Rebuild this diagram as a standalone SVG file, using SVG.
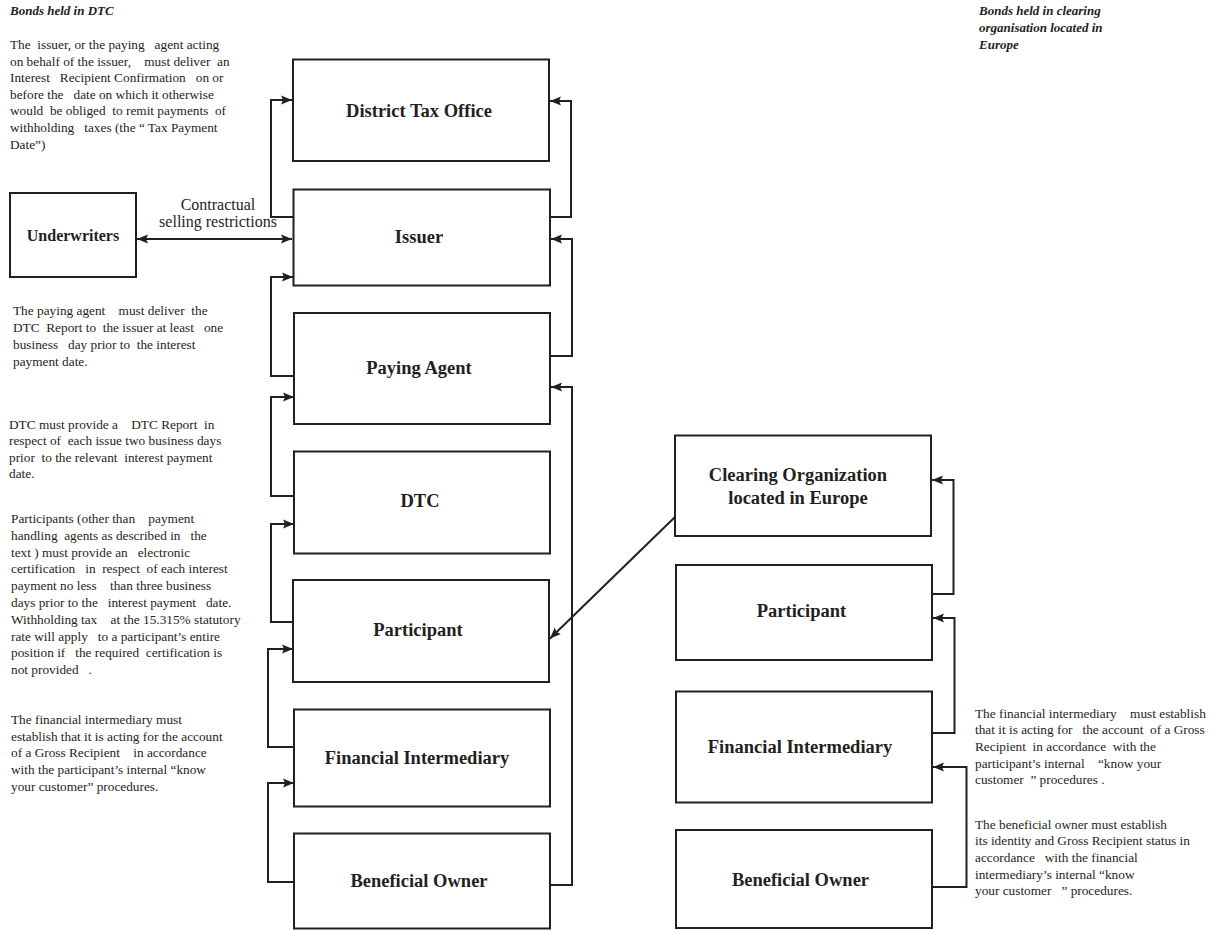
<svg xmlns="http://www.w3.org/2000/svg" width="1212" height="930" viewBox="0 0 1212 930">
<style>
.box{fill:#fff;stroke:#231f20;stroke-width:2}
.lbl{font-family:"Liberation Serif",serif;font-weight:bold;font-size:18.5px;fill:#231f20;text-anchor:middle}
.note{font-family:"Liberation Serif",serif;font-size:13.3px;fill:#231f20;white-space:pre}
.title{font-family:"Liberation Serif",serif;font-weight:bold;font-style:italic;font-size:13px;fill:#231f20}
.cl{font-family:"Liberation Serif",serif;font-size:16px;fill:#231f20;text-anchor:middle}
.conn{fill:none;stroke:#231f20;stroke-width:2}
</style>
<defs>
<marker id="ah" markerUnits="userSpaceOnUse" markerWidth="12" markerHeight="10" refX="11" refY="5" orient="auto-start-reverse">
<path d="M0,0.5 L11,5 L0,9.5 L2,5 z" fill="#231f20"/>
</marker>
</defs>
<rect width="1212" height="930" fill="#fff"/>

<g id="notes">
<text class="title" x="10" y="15">Bonds held in DTC</text>
<text class="title" x="979" y="15">Bonds held in clearing</text>
<text class="title" x="979" y="32">organisation located in</text>
<text class="title" x="979" y="49">Europe</text>

<text class="note" x="10" y="49" xml:space="preserve">The  issuer, or the paying   agent acting</text>
<text class="note" x="10" y="65.6" xml:space="preserve">on behalf of the issuer,    must deliver  an</text>
<text class="note" x="10" y="82.2" xml:space="preserve">Interest   Recipient Confirmation   on or</text>
<text class="note" x="10" y="98.8" xml:space="preserve">before the   date on which it otherwise</text>
<text class="note" x="10" y="115.4" xml:space="preserve">would  be obliged  to remit payments  of</text>
<text class="note" x="10" y="132" xml:space="preserve">withholding   taxes (the “ Tax Payment</text>
<text class="note" x="10" y="148.6" xml:space="preserve">Date”)</text>

<text class="note" x="13" y="315" xml:space="preserve">The paying agent    must deliver  the</text>
<text class="note" x="13" y="332" xml:space="preserve">DTC  Report to  the issuer at least   one</text>
<text class="note" x="13" y="349" xml:space="preserve">business   day prior to  the interest</text>
<text class="note" x="13" y="366" xml:space="preserve">payment date.</text>

<text class="note" x="9" y="428.5" xml:space="preserve">DTC must provide a    DTC Report  in</text>
<text class="note" x="9" y="445.1" xml:space="preserve">respect of  each issue two business days</text>
<text class="note" x="9" y="461.7" xml:space="preserve">prior  to the relevant  interest payment</text>
<text class="note" x="9" y="478.3" xml:space="preserve">date.</text>

<text class="note" x="11" y="523" xml:space="preserve">Participants (other than    payment</text>
<text class="note" x="11" y="539.8" xml:space="preserve">handling  agents as described in   the</text>
<text class="note" x="11" y="556.6" xml:space="preserve">text ) must provide an   electronic</text>
<text class="note" x="11" y="573.4" xml:space="preserve">certification   in  respect  of each interest</text>
<text class="note" x="11" y="590.2" xml:space="preserve">payment no less    than three business</text>
<text class="note" x="11" y="607" xml:space="preserve">days prior to the   interest payment   date.</text>
<text class="note" x="11" y="623.8" xml:space="preserve">Withholding tax    at the 15.315% statutory</text>
<text class="note" x="11" y="640.6" xml:space="preserve">rate will apply   to a participant’s entire</text>
<text class="note" x="11" y="657.4" xml:space="preserve">position if   the required  certification is</text>
<text class="note" x="11" y="674.2" xml:space="preserve">not provided   .</text>

<text class="note" x="11" y="724" xml:space="preserve">The financial intermediary must</text>
<text class="note" x="11" y="740.7" xml:space="preserve">establish that it is acting for the account</text>
<text class="note" x="11" y="757.4" xml:space="preserve">of a Gross Recipient    in accordance</text>
<text class="note" x="11" y="774.1" xml:space="preserve">with the participant’s internal “know</text>
<text class="note" x="11" y="790.8" xml:space="preserve">your customer” procedures.</text>

<text class="note" x="975" y="717.5" xml:space="preserve">The financial intermediary    must establish</text>
<text class="note" x="975" y="734.2" xml:space="preserve">that it is acting for   the account  of a Gross</text>
<text class="note" x="975" y="750.9" xml:space="preserve">Recipient  in accordance  with the</text>
<text class="note" x="975" y="767.6" xml:space="preserve">participant’s internal    “know your</text>
<text class="note" x="975" y="784.3" xml:space="preserve">customer  ” procedures .</text>

<text class="note" x="975" y="828.5" xml:space="preserve">The beneficial owner must establish</text>
<text class="note" x="975" y="845.2" xml:space="preserve">its identity and Gross Recipient status in</text>
<text class="note" x="975" y="861.9" xml:space="preserve">accordance   with the financial</text>
<text class="note" x="975" y="878.6" xml:space="preserve">intermediary’s internal “know</text>
<text class="note" x="975" y="895.3" xml:space="preserve">your customer   ” procedures.</text>
</g>

<g id="connectors">
<polyline class="conn" points="293,217 271,217 271,100 292,100" marker-end="url(#ah)"/>
<polyline class="conn" points="550,217 571,217 571,101 550,101" marker-end="url(#ah)"/>
<line class="conn" x1="137" y1="239" x2="292" y2="239" marker-start="url(#ah)" marker-end="url(#ah)"/>
<polyline class="conn" points="294,376 271,376 271,277 293,277" marker-end="url(#ah)"/>
<polyline class="conn" points="550,356 572,356 572,239 551,239" marker-end="url(#ah)"/>
<polyline class="conn" points="294,496 271,496 271,397 294,397" marker-end="url(#ah)"/>
<polyline class="conn" points="550,885 572,885 572,387 551,387" marker-end="url(#ah)"/>
<polyline class="conn" points="293,622 271,622 271,524 294,524" marker-end="url(#ah)"/>
<polyline class="conn" points="294,747 268,747 268,649 293,649" marker-end="url(#ah)"/>
<polyline class="conn" points="294,882 268,882 268,783 294,783" marker-end="url(#ah)"/>
<line class="conn" x1="675" y1="517" x2="550" y2="638.5" marker-end="url(#ah)"/>
<polyline class="conn" points="932,594 953.5,594 953.5,480 932,480" marker-end="url(#ah)"/>
<polyline class="conn" points="932,733 954.5,733 954.5,618 933,618" marker-end="url(#ah)"/>
<polyline class="conn" points="932,887 966.5,887 966.5,767 933,767" marker-end="url(#ah)"/>
<text class="cl" x="218" y="210">Contractual</text>
<text class="cl" x="218" y="226.5">selling restrictions</text>
</g>

<g id="underwriters"><rect class="box" x="10" y="193" width="126" height="84"/><text class="lbl" style="font-size:16px" x="73" y="240.5">Underwriters</text></g>
<g id="district-tax-office"><rect class="box" x="293" y="59.5" width="256" height="101.5"/><text class="lbl" x="419" y="116.5">District Tax Office</text></g>
<g id="issuer"><rect class="box" x="293.5" y="189.5" width="256.5" height="96"/><text class="lbl" x="419" y="243">Issuer</text></g>
<g id="paying-agent"><rect class="box" x="294" y="313" width="256" height="111"/><text class="lbl" x="419" y="374">Paying Agent</text></g>
<g id="dtc"><rect class="box" x="294" y="451.5" width="256" height="102"/><text class="lbl" x="420" y="507">DTC</text></g>
<g id="participant"><rect class="box" x="293" y="580" width="256" height="102"/><text class="lbl" x="418" y="635.5">Participant</text></g>
<g id="financial-intermediary"><rect class="box" x="294" y="709.5" width="256" height="97"/><text class="lbl" x="417" y="763.5">Financial Intermediary</text></g>
<g id="beneficial-owner"><rect class="box" x="294" y="833.5" width="256" height="95"/><text class="lbl" x="419" y="887">Beneficial Owner</text></g>

<g id="clearing-organization"><rect class="box" x="675" y="435.5" width="256" height="100.5"/><text class="lbl" x="798" y="480.5">Clearing Organization</text><text class="lbl" x="798" y="503.5">located in Europe</text></g>
<g id="participant-eu"><rect class="box" x="676" y="565" width="256" height="95"/><text class="lbl" x="801.5" y="616.5">Participant</text></g>
<g id="financial-intermediary-eu"><rect class="box" x="676" y="691.5" width="256" height="111"/><text class="lbl" x="800" y="753">Financial Intermediary</text></g>
<g id="beneficial-owner-eu"><rect class="box" x="676" y="830" width="256" height="98"/><text class="lbl" x="800.5" y="886">Beneficial Owner</text></g>
</svg>
